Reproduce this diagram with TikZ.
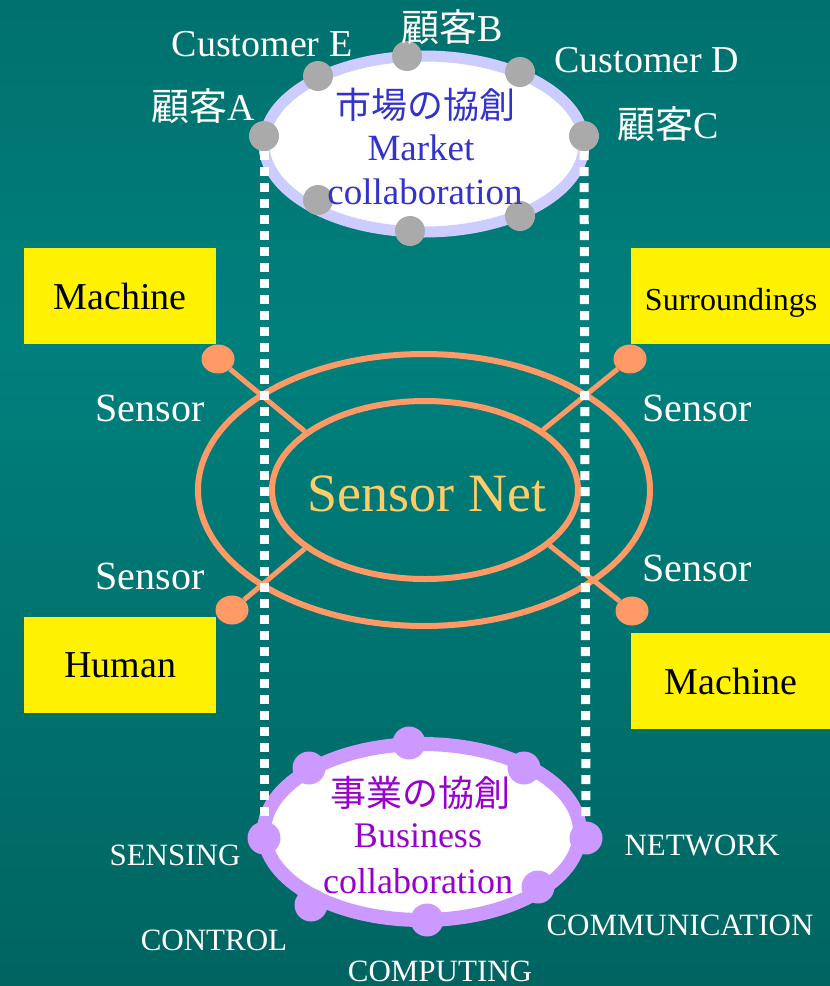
\documentclass[tikz,border=0pt]{standalone}
\usepackage{fontspec}
\setmainfont{Liberation Serif}
\newfontfamily\jpfont{Noto Sans CJK JP}
\usetikzlibrary{shapes.geometric}
\definecolor{tealtop}{RGB}{0,90,88}
\definecolor{tealmid}{RGB}{0,128,125}
\definecolor{tealbot}{RGB}{0,68,64}
\definecolor{salmon}{RGB}{255,153,102}
\definecolor{lavmkt}{RGB}{204,204,255}
\definecolor{lavbiz}{RGB}{204,153,255}
\definecolor{mktblue}{RGB}{51,51,204}
\definecolor{bizpurple}{RGB}{153,0,204}
\definecolor{netgold}{RGB}{255,204,102}
\definecolor{dotgray}{RGB}{170,170,170}
\pgfdeclareverticalshading{tealbg}{100bp}{color(0bp)=(tealbot); color(22bp)=(tealbot!50!tealmid); color(58bp)=(tealmid); color(100bp)=(tealtop)}
\tikzset{
  lbl/.style={text=white, inner sep=0pt, font=\fontsize{38}{40}\selectfont},
  caps/.style={text=white, inner sep=0pt, font=\fontsize{31}{33}\selectfont},
  ybox/.style={fill=yellow, minimum height=96pt, inner sep=0pt, anchor=north west, font=\fontsize{38}{40}\selectfont},
  gdot/.style={circle, fill=dotgray, minimum size=30pt, inner sep=0pt},
  pdot/.style={circle, fill=lavbiz, minimum size=33pt, inner sep=0pt},
  sdot/.style={ellipse, fill=salmon, minimum width=33pt, minimum height=29pt, inner sep=0pt},
  ring/.style={ellipse, inner sep=0pt},
  guide/.style={white, line width=9pt, dash pattern=on 9pt off 7pt},
}
\begin{document}
\begin{tikzpicture}[x=1pt, y=-1pt]
\useasboundingbox (0,0) rectangle (830,986);
\shade[shading=tealbg] (0,0) rectangle (830,986);
% sensor net
\node[ring, draw=salmon, line width=6pt, minimum width=452pt, minimum height=272pt] (outer) at (424,490) {};
\node[ring, draw=salmon, line width=6pt, minimum width=306pt, minimum height=178pt] (net) at (425,490) {};
\node[sdot] (sensUL) at (218,359) {};
\node[sdot] (sensUR) at (630,359) {};
\node[sdot] (sensLL) at (232,610) {};
\node[sdot] (sensLR) at (632,611) {};
\draw[salmon, line width=5pt] (sensUL) -- (net.154);
\draw[salmon, line width=5pt] (sensUR) -- (net.27);
\draw[salmon, line width=5pt] (sensLL) -- (net.206);
\draw[salmon, line width=5pt] (sensLR) -- (net.336);
\node[text=netgold, inner sep=0pt, font=\fontsize{54}{56}\selectfont] at (427,494) {Sensor Net};
% boxes
\node[ybox, minimum width=192pt] (machL) at (24,248) {Machine};
\node[ybox, minimum width=200pt, text height=29pt, text depth=0pt, font=\fontsize{32}{34}\selectfont] (surr) at (631,248) {Surroundings};
\node[ybox, minimum width=192pt] (human) at (24,617) {Human};
\node[ybox, minimum width=200pt] (machR) at (631,633) {Machine};
\node[lbl, font=\fontsize{40}{42}\selectfont] at (150,408) {Sensor};
\node[lbl, font=\fontsize{40}{42}\selectfont] at (697,408) {Sensor};
\node[lbl, font=\fontsize{40}{42}\selectfont] at (150,576) {Sensor};
\node[lbl, font=\fontsize{40}{42}\selectfont] at (697,568) {Sensor};
% market
\node[ring, draw=lavmkt, fill=white, line width=11pt, minimum width=320pt, minimum height=176pt] (market) at (424,144) {};
\node[gdot] (custA) at (264,136) {};
\node[gdot] (custE) at (318,76) {};
\node[gdot] (custB) at (407,56) {};
\node[gdot] (custD) at (520,72) {};
\node[gdot] (custC) at (584,136) {};
\node[gdot] (mktBL) at (318,200) {};
\node[gdot] (mktB) at (410,231) {};
\node[gdot] (mktBR) at (520,216) {};
\node[text=mktblue, inner sep=0pt, font=\jpfont\fontsize{36}{38}\selectfont] at (425,105) {市場の協創};
\node[text=mktblue, inner sep=0pt, font=\fontsize{37}{39}\selectfont] at (421,148) {Market};
\node[text=mktblue, inner sep=0pt, font=\fontsize{37}{39}\selectfont] at (425,192) {collaboration};
\node[lbl] at (262,44) {Customer E};
\node[lbl] at (452,27) {{\jpfont 顧客}B};
\node[lbl] at (647,60) {Customer D};
\node[lbl] at (203,106) {{\jpfont 顧客}A};
\node[lbl] at (668,124) {{\jpfont 顧客}C};
% business
\node[ring, draw=lavbiz, fill=white, line width=14pt, minimum width=316pt, minimum height=176pt] (biz) at (422,832) {};
\node[pdot] (bizT) at (409,743) {};
\node[pdot] (bizTL) at (309,768) {};
\node[pdot] (bizTR) at (524,768) {};
\node[pdot] (bizS) at (264,838) {};
\node[pdot] (bizN) at (586,838) {};
\node[pdot] (bizBL) at (311,905) {};
\node[pdot] (bizB) at (427,920) {};
\node[pdot] (bizBR) at (538,887) {};
\draw[guide, shorten >=4pt] (custA) -- (bizS);
\draw[guide, shorten >=4pt] (custC) -- (bizN);
\node[text=bizpurple, inner sep=0pt, font=\jpfont\fontsize{36}{38}\selectfont] at (420,793) {事業の協創};
\node[text=bizpurple, inner sep=0pt, font=\fontsize{36}{38}\selectfont] at (418,836) {Business};
\node[text=bizpurple, inner sep=0pt, font=\fontsize{36}{38}\selectfont] at (418,881) {collaboration};
\node[caps] at (175,855) {SENSING};
\node[caps] at (702,845) {NETWORK};
\node[caps] at (214,940) {CONTROL};
\node[caps] at (680,925) {COMMUNICATION};
\node[caps] at (440,971) {COMPUTING};
\node[text={rgb,255:red,255;green,255;blue,153}, inner sep=0pt, font=\fontsize{31}{33}\selectfont] at (776,997) {8};
\end{tikzpicture}
\end{document}
